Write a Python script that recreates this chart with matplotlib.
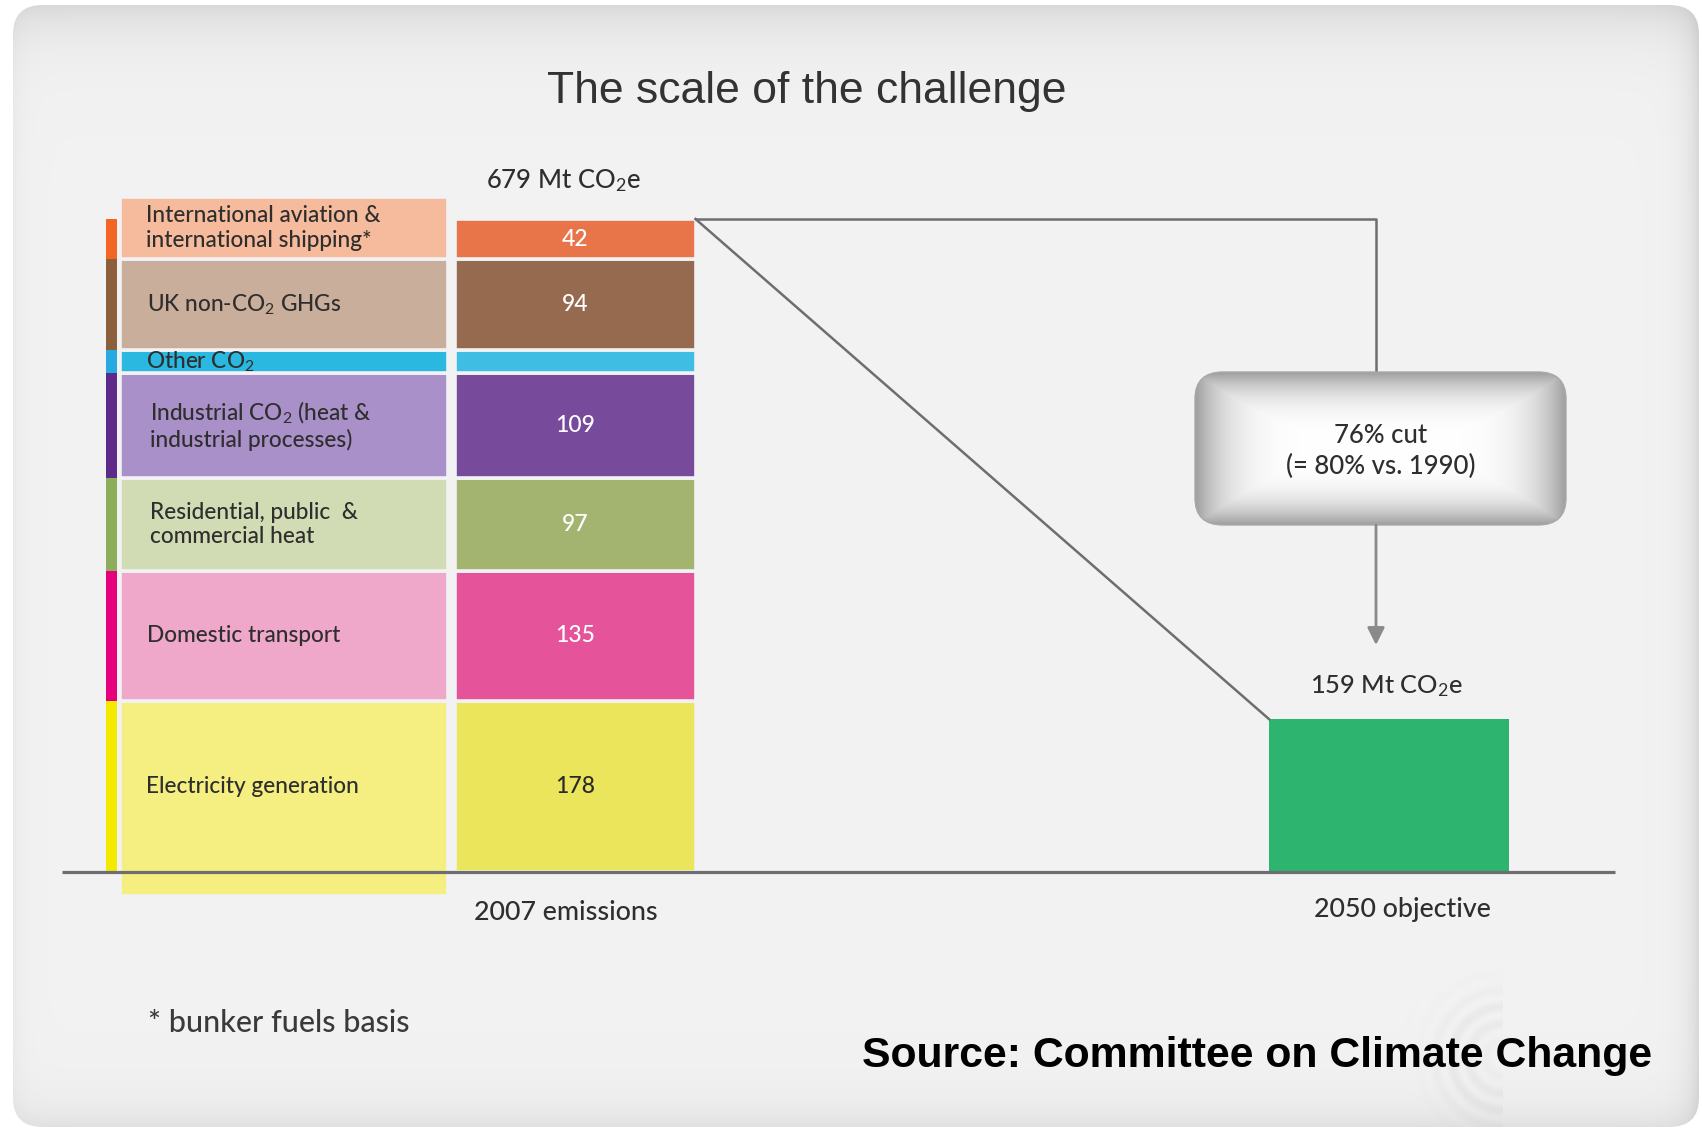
import numpy as np
import matplotlib
matplotlib.use("Agg")
import matplotlib.pyplot as plt
from matplotlib.patches import FancyBboxPatch

plt.rcParams['font.family'] = ['Lato', 'DejaVu Sans']
plt.rcParams['mathtext.fontset'] = 'custom'
plt.rcParams['mathtext.rm'] = 'Lato'
plt.rcParams['mathtext.it'] = 'Lato:italic'
plt.rcParams['mathtext.bf'] = 'Lato:bold'

# 2007 UK emissions by source, stacked from the bottom up (Mt CO2e)
sectors = [
    "Electricity generation",
    "Domestic transport",
    "Residential, public  &\ncommercial heat",
    "Industrial CO$_2$ (heat &\nindustrial processes)",
    "Other CO$_2$",
    "UK non-CO$_2$ GHGs",
    "International aviation &\ninternational shipping*",
]
emissions_2007 = [178, 135, 97, 109, 24, 94, 42]
value_labels = ["178", "135", "97", "109", "", "94", "42"]
target_2050 = 159
cut_text = "76% cut\n(= 80% vs. 1990)"
category_labels = ["2007 emissions", "2050 objective"]

bar_colors = ['#ebe55c', '#e5549a', '#a3b470', '#784a9c', '#40bde2', '#966a4f', '#e8744a']
panel_colors = ['#f5ef82', '#efa8ca', '#d1dcb4', '#aa90c8', '#2ab8e0', '#c9ae9b', '#f6ba9c']
stripe_colors = ['#f4e900', '#e6007e', '#8cae5a', '#5d2a8c', '#27aae1', '#8b5e3c', '#f26522']
value_text_colors = ['#2a2a2a', 'white', 'white', 'white', 'white', 'white', 'white']
target_color = '#2db46f'
bg = '#f2f2f4'
line_col = '#6e6e70'
txt = '#2e2e2e'

W, H = 1702, 1130
fig = plt.figure(figsize=(W / 100, H / 100), dpi=100)
fig.patch.set_facecolor('white')
ax = fig.add_axes([0, 0, 1, 1])
ax.set_axis_off()

# vertical scale: pixels per Mt, baseline row in pixels from the top
k = 0.9617
base_px = 872
y_top = base_px / k
y_bot = -(H - base_px) / k
ax.set_xlim(0, W)
ax.set_ylim(y_bot, y_top)


def py(px):
    """pixel row (from top) -> data y"""
    return (base_px - px) / k


# ---- rounded background panel with soft shaded edges ----
xx = np.arange(W)[None, :].astype(float)
yy = np.arange(H)[:, None].astype(float)
left, right, top, bottom = 13, 1699, 5, 1127
shade = (0.950
         - 0.10 * np.exp(-(yy - top) / 28.0)
         - 0.11 * np.exp(-(right - xx) / 12.0)
         - 0.07 * np.exp(-(bottom - yy) / 22.0)
         - 0.03 * np.exp(-(xx - left) / 10.0))
# faint watermark: concentric half rings in the lower right corner
wx, wy = 1503, 1058
rr = np.hypot(xx - wx, yy - wy)
ring = (np.cos(rr / 5.5) ** 2) * np.exp(-((rr - 45) / 30) ** 2) * (xx < wx)
shade = shade - 0.035 * ring
shade = np.clip(shade, 0.6, 1.0)
img = np.dstack([shade, shade, shade * 1.004]).clip(0, 1)
panel = FancyBboxPatch((left, py(bottom)), right - left, py(top) - py(bottom),
                       boxstyle="round,pad=0,rounding_size=30",
                       facecolor='none', edgecolor='none')
ax.add_patch(panel)
im = ax.imshow(img, extent=[0, W, y_bot, y_top], origin='upper', aspect='auto',
               zorder=0, interpolation='bilinear')
im.set_clip_path(panel)

bottoms = np.concatenate([[0], np.cumsum(emissions_2007)[:-1]])
total = sum(emissions_2007)

# ---- label panels (lighter tints), extending past the bar at both ends ----
pad_top, pad_bot = 23, 25
panel_bottoms = bottoms.astype(float).copy()
panel_heights = np.array(emissions_2007, dtype=float)
panel_bottoms[0] -= pad_bot
panel_heights[0] += pad_bot
panel_heights[-1] += pad_top
ax.bar(284, panel_heights, bottom=panel_bottoms, width=328, color=panel_colors,
       edgecolor=bg, linewidth=2.6, zorder=2)

# thin coloured stripe at the far left
ax.bar(111.5, emissions_2007, bottom=bottoms, width=11, color=stripe_colors,
       linewidth=0, zorder=2)

# ---- 2007 stacked bar ----
ax.bar(575, emissions_2007, bottom=bottoms, width=241, color=bar_colors,
       edgecolor=bg, linewidth=2.6, zorder=2)

# ---- 2050 target bar ----
ax.bar(1389, target_2050, width=240, color=target_color, linewidth=0, zorder=2)

# sector names and values
label_x = [146, 147, 150, 150, 146, 147, 146]
for i, (name, v, b) in enumerate(zip(sectors, emissions_2007, bottoms)):
    yc = b + v / 2
    if i == len(sectors) - 1:
        yc = b + (v + pad_top) / 2
    ax.text(label_x[i], yc, name, ha='left', va='center', fontsize=16.3,
            fontweight='medium', color=txt, linespacing=1.2, zorder=4)
    if value_labels[i]:
        ax.text(575, b + v / 2, value_labels[i], ha='center', va='center',
                fontsize=16.5, fontweight='medium',
                color=value_text_colors[i], zorder=4)

# baseline
ax.plot([62, 1615], [0, 0], color=line_col, lw=2.3, zorder=3,
        solid_capstyle='butt')

# connectors from the 2007 total to the 2050 objective
bar_right = 575 + 241 / 2
ax.plot([bar_right, 1269], [total, target_2050], color=line_col, lw=1.8, zorder=3)
ax.plot([bar_right, 1376, 1376], [total, total, py(372)], color=line_col,
        lw=1.8, zorder=3)

# rounded grey box with a soft gradient fill
bx0, bx1, by0_px, by1_px = 1195, 1566, 372, 525
bw, bh = bx1 - bx0, by1_px - by0_px
gx = np.linspace(-1, 1, 400)[None, :]
gy = np.linspace(-1, 1, 200)[:, None]
r = np.maximum(np.abs(gx) ** 7, np.abs(gy) ** 4)
box_shade = 1 - 0.38 * r ** 0.8
box_img = np.dstack([box_shade] * 3)
box = FancyBboxPatch((bx0, py(by1_px)), bw, py(by0_px) - py(by1_px),
                     boxstyle="round,pad=0,rounding_size=28",
                     facecolor='none', edgecolor='#a9a9ab', lw=1.0, zorder=5)
ax.add_patch(box)
bim = ax.imshow(box_img, extent=[bx0, bx1, py(by1_px), py(by0_px)],
                origin='upper', aspect='auto', zorder=4, interpolation='bilinear')
bim.set_clip_path(box)
ax.text((bx0 + bx1) / 2, py(451), cut_text, ha='center', va='center',
        fontsize=18.5, fontweight='medium', color=txt, linespacing=1.28,
        zorder=6)

# arrow down towards the objective
ax.annotate('', xy=(1376, py(645)), xytext=(1376, py(by1_px)),
            arrowprops=dict(arrowstyle='-|>', color='#8a8a8c', lw=2.0,
                            mutation_scale=26, shrinkA=0, shrinkB=0),
            zorder=5)

# totals and category labels
ax.text(563, py(181), f"{total} Mt CO$_2$e", ha='center', va='center',
        fontsize=18.5, fontweight='medium', color=txt)
ax.text(1386, py(686), f"{target_2050} Mt CO$_2$e", ha='center', va='center',
        fontsize=18.3, fontweight='medium', color=txt)
ax.text(566, py(912), category_labels[0], ha='center', va='center',
        fontsize=19.3, fontweight='medium', color=txt)
ax.text(1402, py(910), category_labels[1], ha='center', va='center',
        fontsize=19.3, fontweight='medium', color=txt)

# title, footnote, source
ax.text(807, py(91), "The scale of the challenge", ha='center', va='center',
        fontsize=32, color='#333333', family='Liberation Sans')
ax.text(148, py(1023), "* bunker fuels basis", ha='left', va='center',
        fontsize=22, fontweight='medium', color='#3a3a3a')
ax.text(1652, py(1056), "Source: Committee on Climate Change", ha='right',
        va='center', fontsize=30.8, fontweight='bold', color='black',
        family='Liberation Sans', zorder=6)

fig.savefig("out.png", dpi=100, facecolor='white')
